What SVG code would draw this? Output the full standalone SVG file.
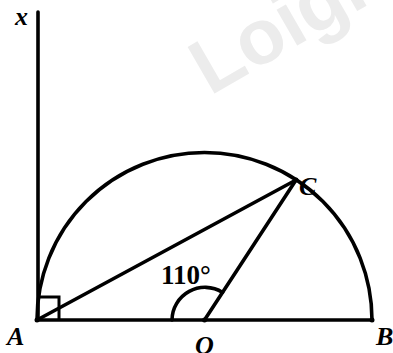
<svg xmlns="http://www.w3.org/2000/svg" width="393" height="353" viewBox="0 0 393 353">
<style>
.ln{stroke:#000;stroke-width:3.6;fill:none;stroke-linecap:round}
.lb{font-family:"Liberation Serif","Times New Roman",serif;font-weight:bold;font-style:italic;font-size:26px;fill:#000}
.wm{font-family:"Liberation Sans",Arial,sans-serif;font-weight:bold;font-size:78px;fill:#ececec}
</style>
<rect width="393" height="353" fill="#fff"/>
<text class="wm" transform="translate(210,96) rotate(-30)">Loigiaihay.com</text>
<g id="connectors">
<path class="ln" d="M38,12 V320"/>
<path class="ln" d="M37,320 A167.5,167.5 0 0 1 372,320"/>
<path class="ln" d="M37,320 H372"/>
<path class="ln" d="M37,320 L296,180"/>
<path class="ln" d="M204.5,320 L296,180"/>
<path d="M39,297 H59 V320" stroke="#000" stroke-width="3" fill="none"/>
<path class="ln" d="M172,320 A33,33 0 0 1 222.6,292.4"/>
</g>
<g id="A"><circle cx="37" cy="320" r="2.5"/><text class="lb" x="7" y="345">A</text></g>
<g id="O"><circle cx="204.5" cy="320" r="2.5"/><text class="lb" x="195" y="354">O</text></g>
<g id="B"><circle cx="372" cy="320" r="2.5"/><text class="lb" x="376" y="345">B</text></g>
<g id="C"><circle cx="296" cy="180" r="2.5"/><text class="lb" x="299" y="195">C</text></g>
<g id="x"><text class="lb" x="15" y="25">x</text></g>
<g id="angle"><text x="161" y="284" font-family="Liberation Serif,'Times New Roman',serif" font-weight="bold" font-size="27">110°</text></g>
</svg>
